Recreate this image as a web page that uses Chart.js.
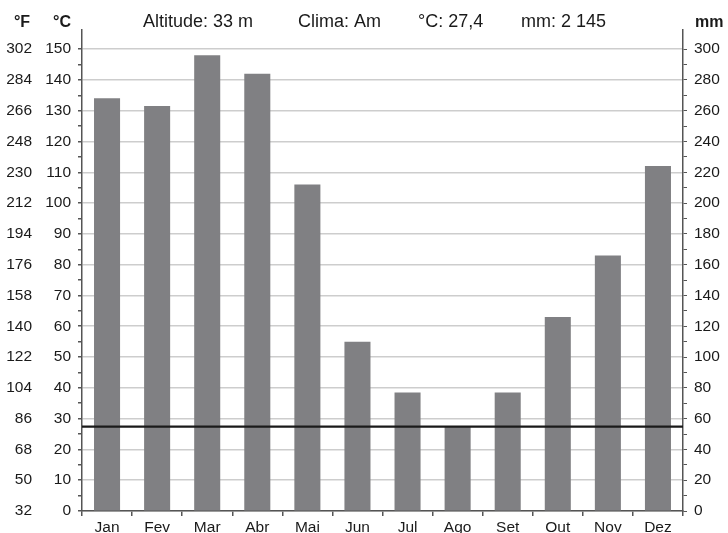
<!DOCTYPE html>
<html>
<head>
<meta charset="utf-8">
<script src="https://cdn.jsdelivr.net/npm/chart.js@4.4.1/dist/chart.umd.min.js"></script>
<style>
  html, body { margin: 0; padding: 0; background: #fff; }
  canvas { display: block; }
</style>
</head>
<body>
<canvas id="chart" width="728" height="533"></canvas>
<script>
// climate data
const months = ['Jan', 'Fev', 'Mar', 'Abr', 'Mai', 'Jun', 'Jul', 'Ago', 'Set', 'Out', 'Nov', 'Dez'];
const precipMm = [268, 263, 296, 284, 212, 110, 77, 55, 77, 126, 166, 224];
const tempC = [27.4, 27.4, 27.4, 27.4, 27.4, 27.4, 27.4, 27.4, 27.4, 27.4, 27.4, 27.4];

// tick labels
const tickC = [0, 10, 20, 30, 40, 50, 60, 70, 80, 90, 100, 110, 120, 130, 140, 150];
const tickF = [32, 50, 68, 86, 104, 122, 140, 158, 176, 194, 212, 230, 248, 266, 284, 302];
const tickMm = [0, 20, 40, 60, 80, 100, 120, 140, 160, 180, 200, 220, 240, 260, 280, 300];

const header = ['Altitude: 33 m', 'Clima: Am', '°C: 27,4', 'mm: 2 145'];

// axis tops sit a little above the last tick
const topC = 156.2;

const axisColor = '#555';
const textColor = '#1a1a1a';
const tickFont = { family: 'Liberation Sans, Arial, sans-serif', size: 15.5 };

function withMinors(list) {
  const out = [];
  list.forEach((v, i) => {
    out.push(v);
    if (i < list.length - 1) out.push((v + list[i + 1]) / 2);
  });
  return out;
}

const headerPlugin = {
  id: 'header',
  afterDraw(chart) {
    const ctx = chart.ctx;
    ctx.save();
    ctx.fillStyle = textColor;
    ctx.textBaseline = 'alphabetic';
    ctx.font = '18px "Liberation Sans", Arial, sans-serif';
    const xs = [143, 298, 418, 521];
    header.forEach((t, i) => ctx.fillText(t, xs[i], 27));
    ctx.font = 'bold 16px "Liberation Sans", Arial, sans-serif';
    ctx.textAlign = 'center';
    ctx.fillText('°F', 22, 27);
    ctx.textAlign = 'right';
    ctx.fillText('°C', 71, 27);
    ctx.textAlign = 'left';
    ctx.fillText('mm', 695, 27);
    ctx.restore();
  }
};

new Chart(document.getElementById('chart').getContext('2d'), {
  type: 'bar',
  data: {
    labels: months,
    datasets: [
      {
        type: 'line',
        label: 'Temperatura',
        data: tempC,
        xAxisID: 'x2',
        yAxisID: 'y',
        borderColor: '#1a1a1a',
        borderWidth: 2.2,
        pointRadius: 0,
        fill: false,
        order: 0
      },
      {
        label: 'Precipitação',
        data: precipMm,
        xAxisID: 'x',
        yAxisID: 'yR',
        backgroundColor: '#808083',
        barPercentage: 0.52,
        categoryPercentage: 1,
        grouped: false,
        order: 1
      }
    ]
  },
  options: {
    responsive: false,
    animation: false,
    layout: { padding: { top: 30, left: 0, right: 0, bottom: 0 } },
    plugins: {
      legend: { display: false },
      tooltip: { enabled: false }
    },
    scales: {
      x: {
        type: 'category',
        position: 'bottom',
        offset: true,
        grid: { drawOnChartArea: false, tickLength: 5, tickColor: axisColor, lineWidth: 1.5 },
        border: { color: axisColor, width: 1.5 },
        ticks: { color: textColor, font: tickFont, padding: 2, maxRotation: 0, autoSkip: false },
        afterFit: s => { s.height = 22; }
      },
      x2: {
        type: 'category',
        labels: months,
        offset: false,
        display: false
      },
      y: {
        type: 'linear',
        position: 'left',
        weight: 0,
        min: 0,
        max: topC,
        afterBuildTicks: s => { s.ticks = withMinors(tickC).map(v => ({ value: v })); },
        grid: {
          color: c => (c.tick && tickC.includes(c.tick.value)) ? '#cdcdcd' : 'rgba(0,0,0,0)',
          lineWidth: 1.5,
          tickColor: axisColor,
          tickLength: 4
        },
        border: { color: axisColor, width: 1.5 },
        ticks: {
          color: textColor,
          font: tickFont,
          padding: 7,
          autoSkip: false,
          callback: v => tickC.includes(v) ? String(v) : ''
        },
        afterFit: s => { s.width = 44; }
      },
      yF: {
        type: 'linear',
        position: 'left',
        weight: 1,
        min: 32,
        max: 32 + topC * 1.8,
        afterBuildTicks: s => { s.ticks = tickF.map(v => ({ value: v })); },
        grid: { display: false, drawTicks: false },
        border: { display: false },
        ticks: { color: textColor, font: tickFont, padding: 6, autoSkip: false },
        afterFit: s => { s.width = 38; }
      },
      yR: {
        type: 'linear',
        position: 'right',
        min: 0,
        max: topC * 2,
        afterBuildTicks: s => { s.ticks = withMinors(tickMm).map(v => ({ value: v })); },
        grid: { drawOnChartArea: false, tickColor: axisColor, tickLength: 4 },
        border: { color: axisColor, width: 1.5 },
        ticks: {
          color: textColor,
          font: tickFont,
          padding: 7,
          autoSkip: false,
          callback: v => tickMm.includes(v) ? String(v) : ''
        },
        afterFit: s => { s.width = 45; }
      }
    }
  },
  plugins: [headerPlugin]
});
</script>
</body>
</html>
